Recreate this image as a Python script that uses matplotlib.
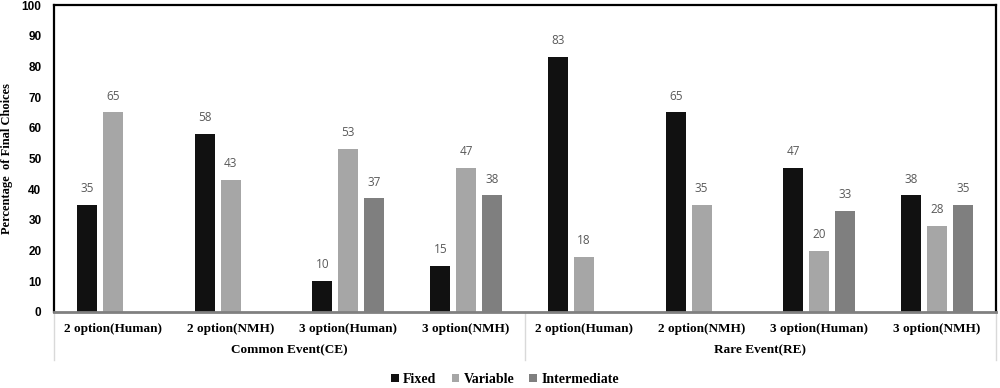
import matplotlib.pyplot as plt
import matplotlib.transforms as mtransforms
import numpy as np

# data
categories = ["2 option(Human)", "2 option(NMH)", "3 option(Human)", "3 option(NMH)",
              "2 option(Human)", "2 option(NMH)", "3 option(Human)", "3 option(NMH)"]
groups = ["Common Event(CE)", "Rare Event(RE)"]
fixed = [35, 58, 10, 15, 83, 65, 47, 38]
variable = [65, 43, 53, 47, 18, 35, 20, 28]
intermediate = [np.nan, np.nan, 37, 38, np.nan, np.nan, 33, 35]

SERIES = [("Fixed", fixed, "#111111"),
          ("Variable", variable, "#a6a6a6"),
          ("Intermediate", intermediate, "#7f7f7f")]
SERIF = ["Liberation Serif", "DejaVu Serif"]
SANS = ["Liberation Sans", "DejaVu Sans"]

fig = plt.figure(figsize=(10, 3.88), dpi=100)
ax = fig.add_axes([0.054, 0.196, 0.942, 0.791])

x = np.arange(len(categories))
width, step = 0.17, 0.22
for k, (name, vals, color) in enumerate(SERIES):
    pos = x + (k - 1) * step
    ax.bar(pos, vals, width=width, color=color, label=name, zorder=2)
    for xi, v in zip(pos, vals):
        if np.isnan(v):
            continue
        ax.text(xi, v + 3.2, f"{v:g}", ha="center", va="bottom", fontsize=8.5,
                color="#595959", family=["Open Sans", "DejaVu Sans"])

ax.set_xlim(-0.5, len(categories) - 0.5)
ax.set_ylim(0, 100)
ax.set_yticks(np.arange(0, 101, 10))
ax.set_yticklabels([str(v) for v in range(0, 101, 10)], fontsize=8.5,
                   fontweight="bold", family=SANS)
ax.set_xticks(x)
ax.set_xticklabels(categories, fontsize=9.5, fontweight="bold", family=SERIF)
ax.tick_params(axis="both", length=0)
ax.tick_params(axis="x", pad=8)
ax.tick_params(axis="y", pad=9)
ax.set_ylabel("Percentage  of Final Choices", fontsize=9, fontweight="bold",
              family=SERIF)
ax.yaxis.set_label_coords(-0.0435, 0.5)

for side in ("left", "top", "right"):
    ax.spines[side].set_color("black")
    ax.spines[side].set_linewidth(1.6)
ax.spines["bottom"].set_color("#808080")
ax.spines["bottom"].set_linewidth(2)

# second-level group labels and dividers
trans = mtransforms.blended_transform_factory(ax.transData, ax.transAxes)
for xd in (-0.5, 3.5, 7.5):
    ax.plot([xd, xd], [0, -0.155], transform=trans, color="#d9d9d9", lw=1,
            clip_on=False)
for i, g in enumerate(groups):
    ax.text(1.5 + 4 * i, -0.125, g, transform=trans, ha="center", va="center",
            fontsize=9.5, fontweight="bold", family=SERIF)

fig.legend(loc="center", bbox_to_anchor=(0.505, 0.022), ncol=3, frameon=False,
           handlelength=0.55, handleheight=0.55, handletextpad=0.3, columnspacing=1.1,
           prop={"family": SERIF, "weight": "bold", "size": 10})

fig.savefig("out.png", dpi=100)
